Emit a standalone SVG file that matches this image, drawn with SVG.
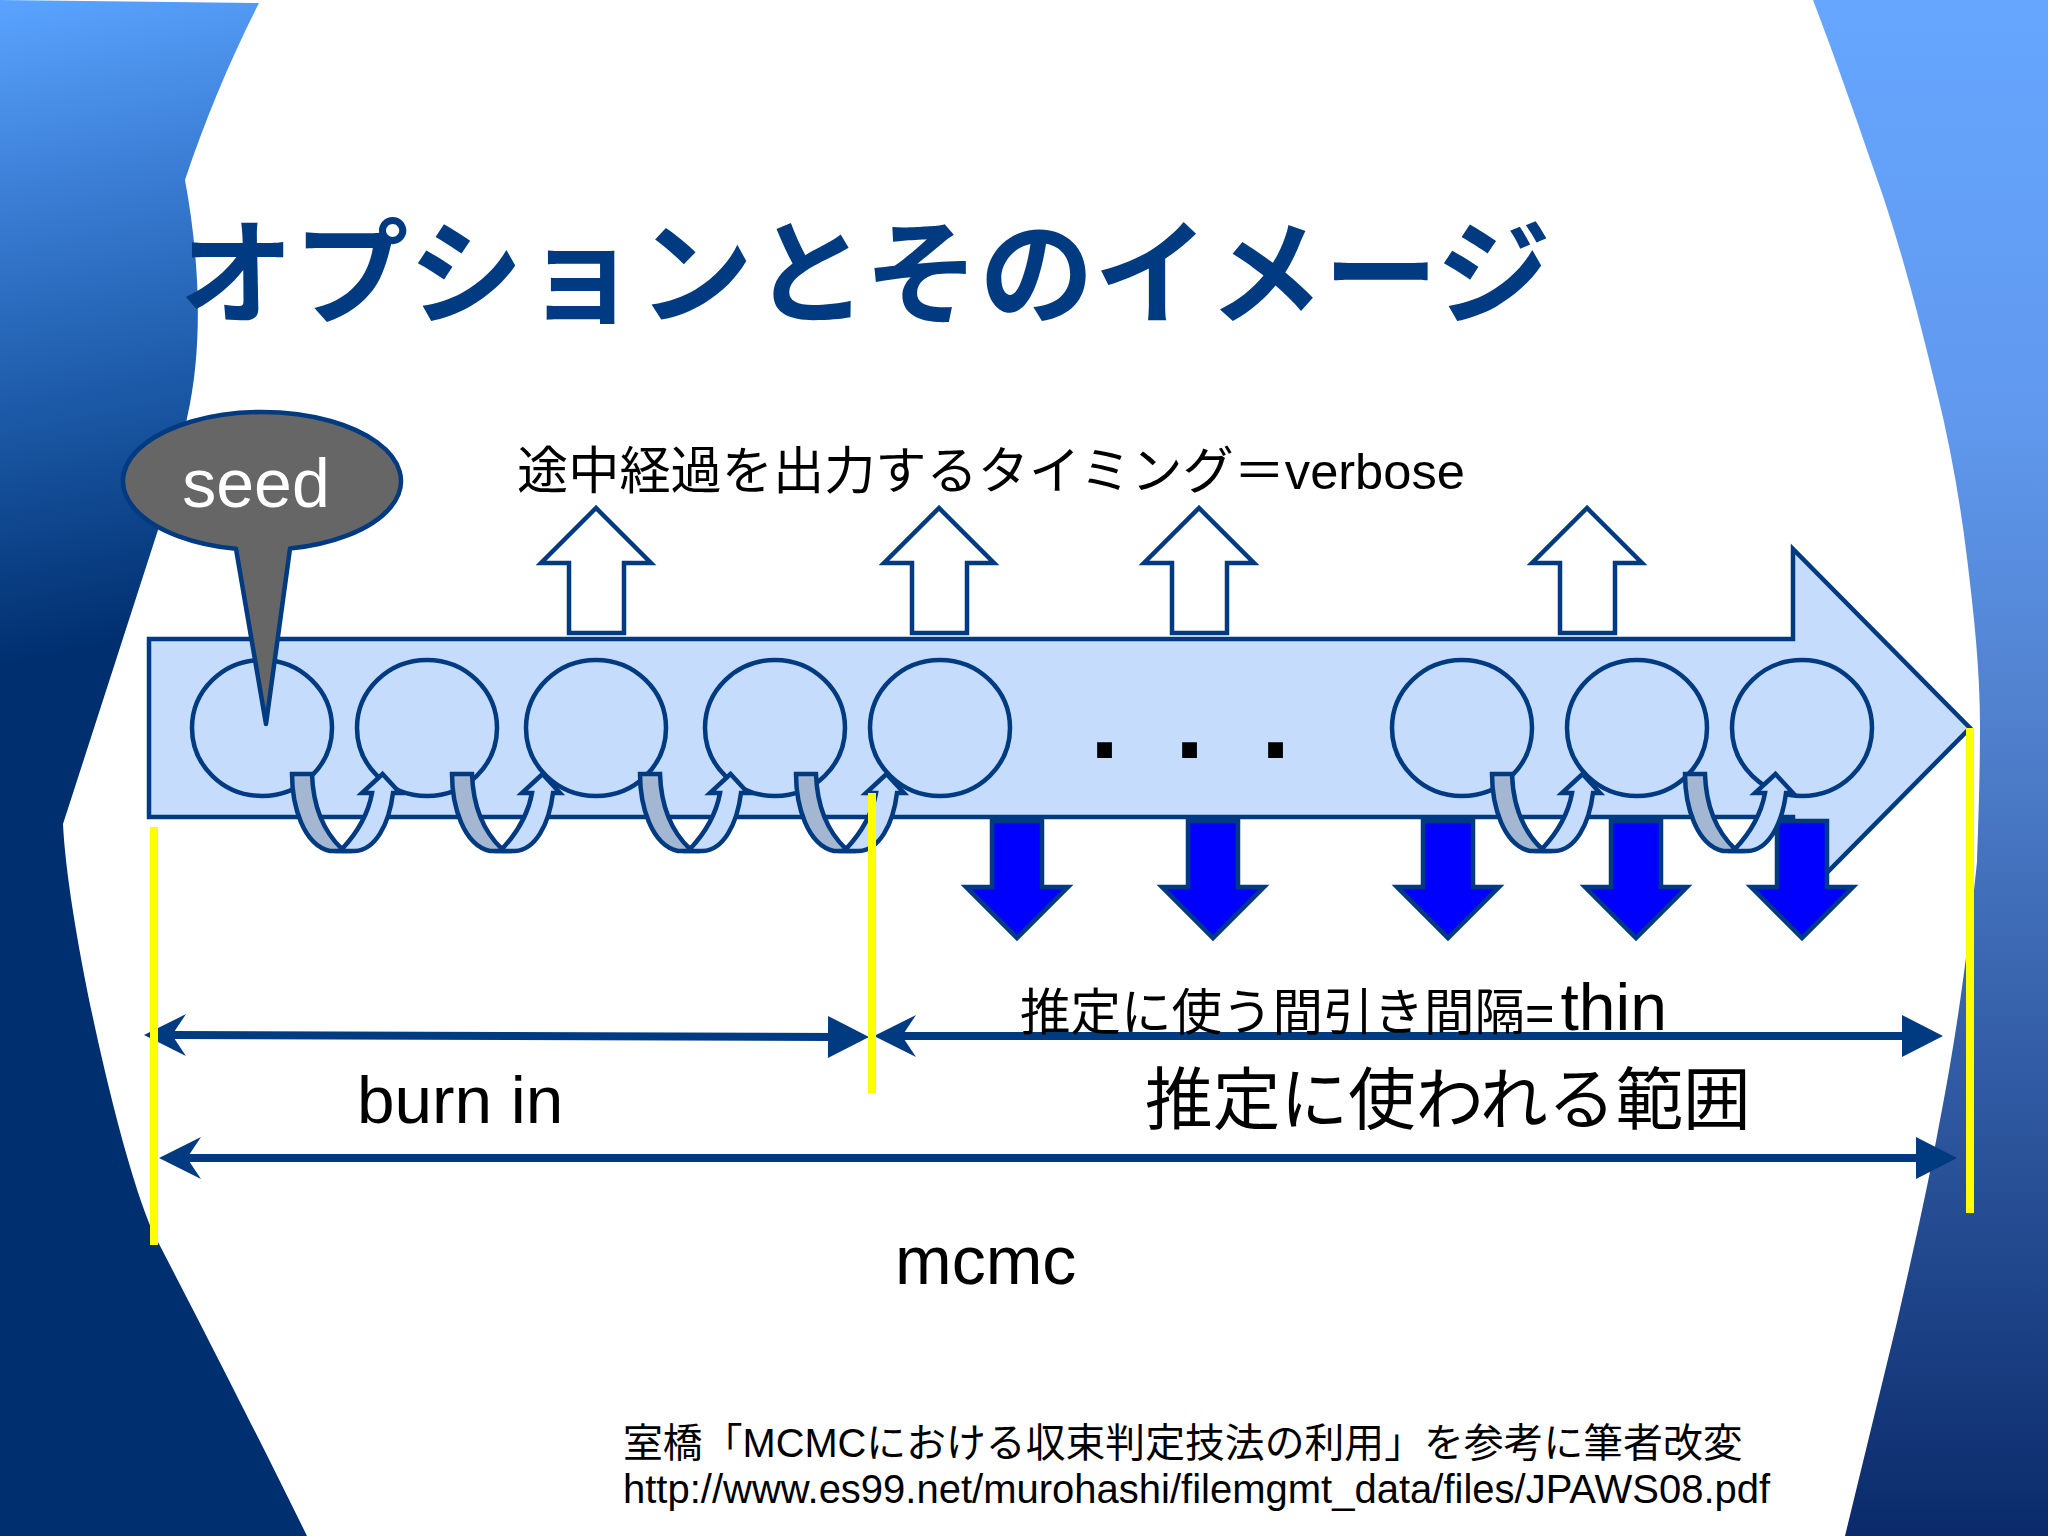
<svg xmlns="http://www.w3.org/2000/svg" width="2048" height="1536" viewBox="0 0 2048 1536">
<style>
text{font-family:"Liberation Sans","Noto Sans CJK JP",sans-serif;fill:#000}
.title{font-family:"Noto Sans CJK JP",sans-serif;font-weight:700;font-size:114.800px;fill:#003a80}
.ln{fill:#c5dcfd;stroke:#003a80;stroke-width:4.500;stroke-linejoin:miter}
.up{fill:#fff;stroke:#003a80;stroke-width:4.500}
.dn{fill:#0000ff;stroke:#003a80;stroke-width:4.500}
.gray{fill:#a3b6d2;stroke:#003a80;stroke-width:4.500}
.conn{stroke:#003a80;stroke-width:8;fill:none;marker-start:url(#tailHead);marker-end:url(#tipHead)}
.mark{fill:#003a80}
.yl{fill:#ffff00}
</style>
<defs>
<linearGradient id="gl" gradientUnits="userSpaceOnUse" x1="0" y1="0" x2="130" y2="640">
<stop offset="0" stop-color="#5aa4ff"/><stop offset=".28" stop-color="#3d80d8"/><stop offset=".62" stop-color="#1c5aa8"/><stop offset="1" stop-color="#002f6f"/>
</linearGradient>
<linearGradient id="gr" gradientUnits="userSpaceOnUse" x1="0" y1="0" x2="0" y2="1536">
<stop offset="0" stop-color="#66a6ff"/><stop offset=".27" stop-color="#6099ee"/><stop offset=".48" stop-color="#4f7fcc"/><stop offset=".72" stop-color="#2e58a0"/><stop offset="1" stop-color="#0a2a6a"/>
</linearGradient>
<marker id="tipHead" markerUnits="userSpaceOnUse" markerWidth="42" markerHeight="44" refX="11" refY="22" orient="auto" overflow="visible">
<path class="mark" d="M0,1 L41,22 L0,43 Z"/>
</marker>
<marker id="tailHead" markerUnits="userSpaceOnUse" markerWidth="43" markerHeight="44" refX="28" refY="22" orient="auto" overflow="visible">
<path class="mark" d="M0,22 L42,1 L28,22 L42,43 Z"/>
</marker>
<polygon id="upArrow" class="up" points="0,508 -55,563 -27,563 -27,633 28,633 28,563 55,563"/>
<polygon id="downArrow" class="dn" points="-25,821 25,821 25,887 51,887 0,938 -51,887 -25,887"/>
<g id="loopArrow">
<path class="gray" d="M292,774 L312,774 C313,805 322,830 342,849 L345,851 L330,851 C303,845 292,805 292,774 Z"/>
<path class="ln" d="M342,849 C358,832 368,815 372,793 L362,793 L382.5,774 L400,793 L393,793 C389,825 375,850 355,851 L340,851 Z"/>
</g>
</defs>
<rect width="2048" height="1536" fill="#fff"/>
<g id="background">
<path fill="url(#gl)" d="M0,0 L259,3 C230,60 205,120 185,180 C198,250 205,340 187,418 C178,470 170,510 158,530 L63,824 C68,930 125,1180 157,1240 C185,1294 250,1420 307,1536 L0,1536 Z"/>
<path fill="url(#gr)" d="M1813,0 C1838,65 1860,130 1883,196 C1905,262 1922,330 1937,392 C1950,445 1960,500 1967,558 C1974,615 1980,670 1980,725 C1980,780 1978,830 1977,862 C1973,900 1968,945 1963,980 C1955,1040 1945,1095 1937,1136 C1925,1200 1910,1265 1897,1322 L1845,1536 L2048,1536 L2048,0 Z"/>
</g>
<text id="title" class="title" x="179" y="315">オプションとそのイメージ</text>
<g id="chain-arrow"><polygon class="ln" points="149,639 1793,639 1793,549 1970,728 1793,907 1793,817 149,817"/></g>
<g id="state-1"><ellipse class="ln" cx="262" cy="728" rx="70" ry="68"/></g>
<g id="state-2"><ellipse class="ln" cx="427" cy="728" rx="70" ry="68"/></g>
<g id="state-3"><ellipse class="ln" cx="596" cy="728" rx="70" ry="68"/></g>
<g id="state-4"><ellipse class="ln" cx="775" cy="728" rx="70" ry="68"/></g>
<g id="state-5"><ellipse class="ln" cx="940" cy="728" rx="70" ry="68"/></g>
<g id="state-6"><ellipse class="ln" cx="1462" cy="728" rx="70" ry="68"/></g>
<g id="state-7"><ellipse class="ln" cx="1637" cy="728" rx="70" ry="68"/></g>
<g id="state-8"><ellipse class="ln" cx="1802" cy="728" rx="70" ry="68"/></g>
<text id="dots" font-weight="700" font-size="105" x="1090 1120 1175 1205 1261" y="758">. . .</text>
<g id="up-1"><use href="#upArrow" x="596"/></g>
<g id="up-2"><use href="#upArrow" x="939"/></g>
<g id="up-3"><use href="#upArrow" x="1199"/></g>
<g id="up-4"><use href="#upArrow" x="1587"/></g>
<g id="down-1"><use href="#downArrow" x="1017"/></g>
<g id="down-2"><use href="#downArrow" x="1213"/></g>
<g id="down-3"><use href="#downArrow" x="1448"/></g>
<g id="down-4"><use href="#downArrow" x="1636"/></g>
<g id="down-5"><use href="#downArrow" x="1802"/></g>
<g id="seed">
<path fill="#666" stroke="#003a80" stroke-width="4.500" stroke-linejoin="round" d="M236,548.8 A139,69 0 1 1 290,548.6 L266,724 Z"/>
<text x="256" y="507" font-size="68" text-anchor="middle" style="fill:#fff">seed</text>
</g>
<g id="loops">
<use href="#loopArrow"/><use href="#loopArrow" x="160"/><use href="#loopArrow" x="348"/><use href="#loopArrow" x="504"/><use href="#loopArrow" x="1200"/><use href="#loopArrow" x="1393"/>
</g>
<g id="connectors">
<line class="conn" x1="172" y1="1035" x2="839" y2="1037"/>
<line class="conn" x1="902" y1="1036" x2="1913" y2="1036"/>
<line class="conn" x1="187" y1="1158" x2="1927" y2="1158"/>
</g>
<g id="markers">
<rect class="yl" x="150" y="827" width="8" height="418"/>
<rect class="yl" x="868" y="793" width="8" height="300"/>
<rect class="yl" x="1966" y="728" width="8" height="485"/>
</g>
<text x="517" y="489" font-size="51.200">途中経過を出力するタイミング&#xFF1D;<tspan font-size="50.600">verbose</tspan></text>
<text x="1020" y="1030" font-size="50.500">推定に使う間引き間隔=<tspan font-size="66" dx="6">thin</tspan></text>
<text x="357" y="1123" font-size="67.500">burn in</text>
<text x="1145" y="1124" font-size="67.700">推定に使われる範囲</text>
<text x="895" y="1284" font-size="68">mcmc</text>
<text x="623" y="1457" font-size="39.850">室橋「MCMCにおける収束判定技法の利用」を参考に筆者改変</text>
<text x="623" y="1503" font-size="40">http://www.es99.net/murohashi/filemgmt_data/files/JPAWS08.pdf</text>
</svg>
